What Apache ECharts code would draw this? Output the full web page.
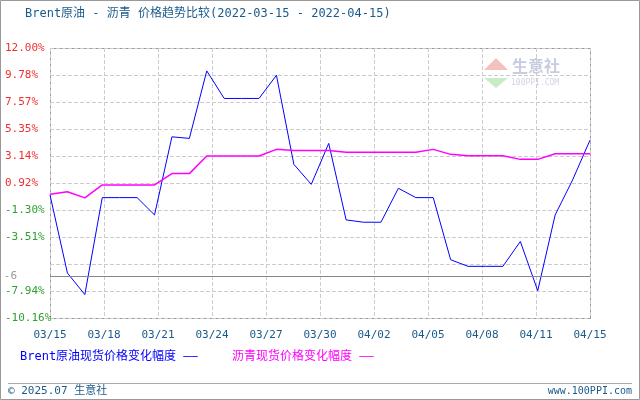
<!DOCTYPE html>
<html><head><meta charset="utf-8">
<script src="https://cdn.jsdelivr.net/npm/echarts@6/dist/echarts.min.js"></script>
<style>html,body{margin:0;padding:0;background:#fff}#c{width:640px;height:400px}</style>
</head><body><div id="c"></div>
<script>
const days = Array.from({length:32},(_,i)=>i);
const xTickLabels = ['03/15','03/18','03/21','03/24','03/27','03/30','04/02','04/05','04/08','04/11','04/15'];
const yTickLabels = ['-10.16%','-7.94%','','-3.51%','-1.30%','0.92%','3.14%','5.35%','7.57%','9.78%','12.00%'];
const brent = [-0.06,-6.47,-8.24,-0.28,-0.28,-0.28,-1.70,4.71,4.58,10.12,7.86,7.86,7.86,9.76,2.45,0.81,4.17,-2.11,-2.30,-2.30,0.49,-0.28,-0.28,-5.38,-5.92,-5.92,-5.92,-3.88,-7.92,-1.70,1.17,4.44];
const asphalt = [0.0,0.2,-0.3,0.76,0.76,0.76,0.76,1.69,1.69,3.13,3.13,3.13,3.13,3.68,3.58,3.58,3.58,3.45,3.45,3.45,3.45,3.45,3.68,3.27,3.16,3.16,3.16,2.86,2.86,3.32,3.32,3.32];
const refLine = -6.7;
const mono = 'DejaVu Sans Mono';
const chart = echarts.init(document.getElementById('c'));
chart.setOption({
  animation:false,
  grid:{left:50,right:50,top:48,bottom:82,outerBoundsMode:'none',containLabel:false},
  xAxis:{type:'value',min:0,max:31,interval:3.1,
    axisLine:{show:false},axisTick:{show:false},
    splitLine:{show:true,lineStyle:{color:'#ccc',type:'dashed'}},
    axisLabel:{fontFamily:mono,fontSize:11,color:'#1a5a8a',margin:12,
      formatter:(v)=>xTickLabels[Math.round(v/3.1)]}},
  yAxis:{type:'value',min:-10.16,max:12,interval:2.216,
    axisLine:{show:false},axisTick:{show:false},
    splitLine:{show:true,lineStyle:{color:'#ccc',type:'dashed'}},
    axisLabel:{fontFamily:mono,fontSize:11,margin:45,align:'left',
      formatter:(v)=>yTickLabels[Math.round((v+10.16)/2.216)],
      color:(v)=> v>0?'#f03030':'#30a030'}},
  series:[
    {type:'line',data:days.map((d,i)=>[d,brent[i]]),symbol:'none',lineStyle:{color:'#0000ff',width:1},
     markLine:{silent:true,symbol:'none',data:[{yAxis:refLine}],lineStyle:{color:'#888',type:'solid',width:1},
       label:{position:'start',formatter:'-6',color:'#999',fontFamily:mono,fontSize:11,distance:33}}},
    {type:'line',data:days.map((d,i)=>[d,asphalt[i]]),symbol:'none',lineStyle:{color:'#ff00ff',width:1.5}}
  ],
  graphic:[
    {type:'rect',shape:{x:0.5,y:0.5,width:639,height:399},style:{fill:'none',stroke:'#999'}},
    {type:'rect',shape:{x:50.5,y:48.5,width:540,height:270},style:{fill:'none',stroke:'#999',lineWidth:1}},
    {type:'line',shape:{x1:8,y1:383.5,x2:632,y2:383.5},style:{stroke:'#aaa'}},
    {type:'text',x:25,y:8,style:{text:'Brent原油 - 沥青 价格趋势比较(2022-03-15 - 2022-04-15)',font:'12px "DejaVu Sans Mono","Noto Sans CJK SC"',fill:'#1a5a8a'}},
    {type:'text',x:20,y:351,style:{text:'Brent原油现货价格变化幅度 ——',font:'12px "DejaVu Sans Mono","Noto Sans CJK SC"',fill:'#0000ff'}},
    {type:'text',x:232,y:351,style:{text:'沥青现货价格变化幅度 ——',font:'12px "DejaVu Sans Mono","Noto Sans CJK SC"',fill:'#ff00ff'}},
    {type:'text',x:8,y:386,style:{text:'© 2025.07 生意社',font:'11px "DejaVu Sans Mono","Noto Sans CJK SC"',fill:'#1a5a8a'}},
    {type:'text',x:632,y:386,style:{text:'www.100PPI.com',align:'right',font:'10px "DejaVu Sans Mono"',fill:'#1a5a8a'}},
    {type:'text',x:512,y:58,style:{text:'生意社',font:'bold 16px "Noto Sans CJK SC"',fill:'#c8cce0'}},
    {type:'text',x:511,y:79,style:{text:'100PPI.COM',font:'8px "DejaVu Sans Mono"',fill:'#d0d4e4'}},
    {type:'polygon',shape:{points:[[484,70],[496,58],[508,70]]},style:{fill:'#f4c0c0'}},
    {type:'polygon',shape:{points:[[484,78],[508,78],[496,88]]},style:{fill:'#c8ecc8'}}
  ]
});
</script></body></html>
